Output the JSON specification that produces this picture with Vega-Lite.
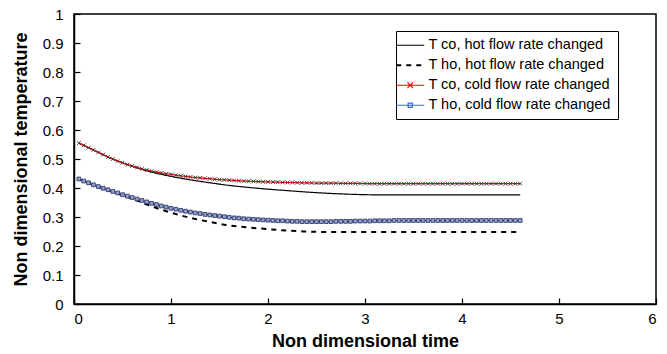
{
  "$schema": "https://vega.github.io/schema/vega-lite/v6.json",
  "width": 582,
  "height": 290,
  "autosize": {"type": "none"},
  "padding": {"left": 74, "top": 14, "right": 11, "bottom": 50},
  "background": "white",
  "config": {
    "font": "Liberation Sans",
    "view": {"stroke": "black", "strokeWidth": 1.5},
    "axis": {
      "grid": false,
      "domainColor": "black",
      "domainWidth": 1.5,
      "tickColor": "black",
      "tickWidth": 1.2,
      "tickSize": -6,
      "labelFont": "Liberation Sans",
      "labelFontSize": 15,
      "labelColor": "black",
      "titleFont": "Liberation Sans",
      "titleFontSize": 18,
      "titleFontWeight": "bold",
      "titleColor": "black"
    },
    "legend": {
      "title": null,
      "orient": "none",
      "legendX": 322,
      "legendY": 17,
      "strokeColor": "black",
      "fillColor": "white",
      "padding": 7,
      "labelFont": "Liberation Sans",
      "labelFontSize": 14.5,
      "labelColor": "black",
      "labelLimit": 400,
      "symbolSize": 784,
      "symbolStrokeWidth": 1.2,
      "labelOffset": 11,
      "rowPadding": 5
    }
  },
  "datasets": {
    "coHot": [
      {"time": 0.05, "temp": 0.555}, {"time": 0.2, "temp": 0.531}, {"time": 0.4, "temp": 0.5},
      {"time": 0.6, "temp": 0.475}, {"time": 0.8, "temp": 0.455}, {"time": 1.0, "temp": 0.44},
      {"time": 1.2, "temp": 0.428}, {"time": 1.4, "temp": 0.418}, {"time": 1.6, "temp": 0.409},
      {"time": 1.8, "temp": 0.402}, {"time": 2.0, "temp": 0.396}, {"time": 2.2, "temp": 0.391},
      {"time": 2.4, "temp": 0.386}, {"time": 2.6, "temp": 0.382}, {"time": 2.8, "temp": 0.379},
      {"time": 3.0, "temp": 0.377}, {"time": 3.2, "temp": 0.376}, {"time": 3.6, "temp": 0.376},
      {"time": 4.0, "temp": 0.376}, {"time": 4.4, "temp": 0.376}, {"time": 4.6, "temp": 0.376}
    ],
    "hoHot": [
      {"time": 0.05, "temp": 0.431}, {"time": 0.2, "temp": 0.411}, {"time": 0.4, "temp": 0.387},
      {"time": 0.6, "temp": 0.363}, {"time": 0.8, "temp": 0.337}, {"time": 1.0, "temp": 0.315},
      {"time": 1.2, "temp": 0.297}, {"time": 1.4, "temp": 0.283}, {"time": 1.6, "temp": 0.271},
      {"time": 1.8, "temp": 0.264}, {"time": 2.0, "temp": 0.258}, {"time": 2.2, "temp": 0.253},
      {"time": 2.4, "temp": 0.25}, {"time": 2.6, "temp": 0.248}, {"time": 2.8, "temp": 0.248},
      {"time": 3.2, "temp": 0.248}, {"time": 3.6, "temp": 0.248}, {"time": 4.0, "temp": 0.248},
      {"time": 4.4, "temp": 0.248}, {"time": 4.6, "temp": 0.248}
    ],
    "coCold": [
      {"time": 0.05, "temp": 0.555}, {"time": 0.1, "temp": 0.547}, {"time": 0.15, "temp": 0.539},
      {"time": 0.2, "temp": 0.531}, {"time": 0.25, "temp": 0.523}, {"time": 0.3, "temp": 0.515},
      {"time": 0.35, "temp": 0.507}, {"time": 0.4, "temp": 0.5}, {"time": 0.45, "temp": 0.493},
      {"time": 0.5, "temp": 0.487}, {"time": 0.55, "temp": 0.481}, {"time": 0.6, "temp": 0.476},
      {"time": 0.65, "temp": 0.471}, {"time": 0.7, "temp": 0.466}, {"time": 0.75, "temp": 0.462},
      {"time": 0.8, "temp": 0.458}, {"time": 0.85, "temp": 0.455}, {"time": 0.9, "temp": 0.452},
      {"time": 0.95, "temp": 0.449}, {"time": 1.0, "temp": 0.447}, {"time": 1.05, "temp": 0.444},
      {"time": 1.1, "temp": 0.442}, {"time": 1.15, "temp": 0.44}, {"time": 1.2, "temp": 0.438},
      {"time": 1.25, "temp": 0.436}, {"time": 1.3, "temp": 0.435}, {"time": 1.35, "temp": 0.433},
      {"time": 1.4, "temp": 0.432}, {"time": 1.45, "temp": 0.43}, {"time": 1.5, "temp": 0.429},
      {"time": 1.55, "temp": 0.428}, {"time": 1.6, "temp": 0.427}, {"time": 1.65, "temp": 0.426},
      {"time": 1.7, "temp": 0.425}, {"time": 1.75, "temp": 0.424}, {"time": 1.8, "temp": 0.4235},
      {"time": 1.85, "temp": 0.423}, {"time": 1.9, "temp": 0.422}, {"time": 1.95, "temp": 0.4215},
      {"time": 2.0, "temp": 0.421}, {"time": 2.05, "temp": 0.4205}, {"time": 2.1, "temp": 0.42},
      {"time": 2.15, "temp": 0.4195}, {"time": 2.2, "temp": 0.419}, {"time": 2.25, "temp": 0.419},
      {"time": 2.3, "temp": 0.4185}, {"time": 2.35, "temp": 0.418}, {"time": 2.4, "temp": 0.418},
      {"time": 2.45, "temp": 0.4175}, {"time": 2.5, "temp": 0.417}, {"time": 2.55, "temp": 0.417},
      {"time": 2.6, "temp": 0.417}, {"time": 2.65, "temp": 0.4165}, {"time": 2.7, "temp": 0.4165},
      {"time": 2.75, "temp": 0.416}, {"time": 2.8, "temp": 0.416}, {"time": 2.85, "temp": 0.416},
      {"time": 2.9, "temp": 0.416}, {"time": 2.95, "temp": 0.4155}, {"time": 3.0, "temp": 0.4155},
      {"time": 3.05, "temp": 0.415}, {"time": 3.1, "temp": 0.415}, {"time": 3.15, "temp": 0.415},
      {"time": 3.2, "temp": 0.415}, {"time": 3.25, "temp": 0.415}, {"time": 3.3, "temp": 0.415},
      {"time": 3.35, "temp": 0.415}, {"time": 3.4, "temp": 0.415}, {"time": 3.45, "temp": 0.415},
      {"time": 3.5, "temp": 0.415}, {"time": 3.55, "temp": 0.415}, {"time": 3.6, "temp": 0.415},
      {"time": 3.65, "temp": 0.415}, {"time": 3.7, "temp": 0.415}, {"time": 3.75, "temp": 0.415},
      {"time": 3.8, "temp": 0.415}, {"time": 3.85, "temp": 0.415}, {"time": 3.9, "temp": 0.415},
      {"time": 3.95, "temp": 0.415}, {"time": 4.0, "temp": 0.415}, {"time": 4.05, "temp": 0.415},
      {"time": 4.1, "temp": 0.415}, {"time": 4.15, "temp": 0.415}, {"time": 4.2, "temp": 0.415},
      {"time": 4.25, "temp": 0.415}, {"time": 4.3, "temp": 0.415}, {"time": 4.35, "temp": 0.415},
      {"time": 4.4, "temp": 0.415}, {"time": 4.45, "temp": 0.415}, {"time": 4.5, "temp": 0.415},
      {"time": 4.55, "temp": 0.415}, {"time": 4.6, "temp": 0.415}
    ],
    "hoCold": [
      {"time": 0.05, "temp": 0.431}, {"time": 0.1, "temp": 0.424}, {"time": 0.15, "temp": 0.418},
      {"time": 0.2, "temp": 0.411}, {"time": 0.25, "temp": 0.405}, {"time": 0.3, "temp": 0.399},
      {"time": 0.35, "temp": 0.394}, {"time": 0.4, "temp": 0.388}, {"time": 0.45, "temp": 0.383},
      {"time": 0.5, "temp": 0.377}, {"time": 0.55, "temp": 0.372}, {"time": 0.6, "temp": 0.367},
      {"time": 0.65, "temp": 0.362}, {"time": 0.7, "temp": 0.357}, {"time": 0.75, "temp": 0.352},
      {"time": 0.8, "temp": 0.347}, {"time": 0.85, "temp": 0.343}, {"time": 0.9, "temp": 0.338},
      {"time": 0.95, "temp": 0.334}, {"time": 1.0, "temp": 0.33}, {"time": 1.05, "temp": 0.327},
      {"time": 1.1, "temp": 0.323}, {"time": 1.15, "temp": 0.32}, {"time": 1.2, "temp": 0.317},
      {"time": 1.25, "temp": 0.314}, {"time": 1.3, "temp": 0.312}, {"time": 1.35, "temp": 0.309},
      {"time": 1.4, "temp": 0.307}, {"time": 1.45, "temp": 0.305}, {"time": 1.5, "temp": 0.303},
      {"time": 1.55, "temp": 0.301}, {"time": 1.6, "temp": 0.299}, {"time": 1.65, "temp": 0.297},
      {"time": 1.7, "temp": 0.296}, {"time": 1.75, "temp": 0.294}, {"time": 1.8, "temp": 0.293},
      {"time": 1.85, "temp": 0.292}, {"time": 1.9, "temp": 0.291}, {"time": 1.95, "temp": 0.29},
      {"time": 2.0, "temp": 0.289}, {"time": 2.05, "temp": 0.288}, {"time": 2.1, "temp": 0.287},
      {"time": 2.15, "temp": 0.287}, {"time": 2.2, "temp": 0.286}, {"time": 2.25, "temp": 0.285},
      {"time": 2.3, "temp": 0.285}, {"time": 2.35, "temp": 0.284}, {"time": 2.4, "temp": 0.284},
      {"time": 2.45, "temp": 0.284}, {"time": 2.5, "temp": 0.284}, {"time": 2.55, "temp": 0.284},
      {"time": 2.6, "temp": 0.284}, {"time": 2.65, "temp": 0.284}, {"time": 2.7, "temp": 0.285},
      {"time": 2.75, "temp": 0.285}, {"time": 2.8, "temp": 0.285}, {"time": 2.85, "temp": 0.285},
      {"time": 2.9, "temp": 0.286}, {"time": 2.95, "temp": 0.286}, {"time": 3.0, "temp": 0.286},
      {"time": 3.05, "temp": 0.286}, {"time": 3.1, "temp": 0.287}, {"time": 3.15, "temp": 0.287},
      {"time": 3.2, "temp": 0.287}, {"time": 3.25, "temp": 0.287}, {"time": 3.3, "temp": 0.288},
      {"time": 3.35, "temp": 0.288}, {"time": 3.4, "temp": 0.288}, {"time": 3.45, "temp": 0.288},
      {"time": 3.5, "temp": 0.288}, {"time": 3.55, "temp": 0.288}, {"time": 3.6, "temp": 0.288},
      {"time": 3.65, "temp": 0.288}, {"time": 3.7, "temp": 0.288}, {"time": 3.75, "temp": 0.288},
      {"time": 3.8, "temp": 0.288}, {"time": 3.85, "temp": 0.288}, {"time": 3.9, "temp": 0.288},
      {"time": 3.95, "temp": 0.288}, {"time": 4.0, "temp": 0.288}, {"time": 4.05, "temp": 0.288},
      {"time": 4.1, "temp": 0.288}, {"time": 4.15, "temp": 0.288}, {"time": 4.2, "temp": 0.288},
      {"time": 4.25, "temp": 0.288}, {"time": 4.3, "temp": 0.288}, {"time": 4.35, "temp": 0.288},
      {"time": 4.4, "temp": 0.288}, {"time": 4.45, "temp": 0.288}, {"time": 4.5, "temp": 0.288},
      {"time": 4.55, "temp": 0.288}, {"time": 4.6, "temp": 0.288}
    ]
  },
  "encoding": {
    "x": {
      "field": "time", "type": "quantitative",
      "scale": {"domain": [0, 6], "nice": false, "zero": false},
      "axis": {"title": "Non dimensional time", "values": [0, 1, 2, 3, 4, 5, 6], "format": "d", "labelOverlap": false, "labelPadding": 13, "titlePadding": 6}
    },
    "y": {
      "field": "temp", "type": "quantitative",
      "scale": {"domain": [0, 1], "nice": false},
      "axis": {"title": "Non dimensional temperature", "values": [0, 0.1, 0.2, 0.3, 0.4, 0.5, 0.6, 0.7, 0.8, 0.9, 1], "format": ".1~f", "labelOverlap": false, "labelSeparation": 0, "labelPadding": 17, "titlePadding": 12}
    }
  },
  "layer": [
    {
      "data": {"name": "coHot"},
      "mark": {"type": "line", "strokeWidth": 1.2, "interpolate": "monotone"},
      "encoding": {
        "color": {
          "datum": "T co, hot flow rate changed", "type": "nominal",
          "scale": {
            "domain": ["T co, hot flow rate changed", "T ho, hot flow rate changed", "T co, cold flow rate changed", "T ho, cold flow rate changed"],
            "range": ["#000000", "#000000", "#ff0000", "#3366ff"]
          },
          "legend": {
            "encode": {
              "symbols": {
                "update": {
                  "shape": {"signal": "datum.value === 'T co, cold flow rate changed' ? 'M-1,0L1,0M-0.2,-0.2L0.2,0.2M-0.2,0.2L0.2,-0.2' : datum.value === 'T ho, cold flow rate changed' ? 'M-1,0L1,0M-0.15,-0.15H0.15V0.15H-0.15Z' : 'M-1,0L1,0'"},
                  "strokeWidth": {"signal": "datum.value === 'T ho, hot flow rate changed' ? 2 : 1.2"}
                }
              }
            }
          }
        },
        "strokeDash": {
          "datum": "T co, hot flow rate changed", "type": "nominal",
          "scale": {
            "domain": ["T co, hot flow rate changed", "T ho, hot flow rate changed", "T co, cold flow rate changed", "T ho, cold flow rate changed"],
            "range": [[1, 0], [5, 5], [1, 0], [1, 0]]
          },
          "legend": {
            "encode": {
              "symbols": {
                "update": {
                  "shape": {"signal": "datum.value === 'T co, cold flow rate changed' ? 'M-1,0L1,0M-0.2,-0.2L0.2,0.2M-0.2,0.2L0.2,-0.2' : datum.value === 'T ho, cold flow rate changed' ? 'M-1,0L1,0M-0.15,-0.15H0.15V0.15H-0.15Z' : 'M-1,0L1,0'"},
                  "strokeWidth": {"signal": "datum.value === 'T ho, hot flow rate changed' ? 2 : 1.2"}
                }
              }
            }
          }
        }
      }
    },
    {
      "data": {"name": "hoHot"},
      "mark": {"type": "line", "strokeWidth": 2, "interpolate": "monotone"},
      "encoding": {
        "color": {"datum": "T ho, hot flow rate changed", "type": "nominal"},
        "strokeDash": {"datum": "T ho, hot flow rate changed", "type": "nominal"}
      }
    },
    {
      "data": {"name": "coCold"},
      "mark": {"type": "line", "strokeWidth": 1.2},
      "encoding": {
        "color": {"datum": "T co, cold flow rate changed", "type": "nominal"},
        "strokeDash": {"datum": "T co, cold flow rate changed", "type": "nominal"}
      }
    },
    {
      "data": {"name": "hoCold"},
      "mark": {"type": "line", "strokeWidth": 1.2},
      "encoding": {
        "color": {"datum": "T ho, cold flow rate changed", "type": "nominal"},
        "strokeDash": {"datum": "T ho, cold flow rate changed", "type": "nominal"}
      }
    },
    {
      "data": {"name": "coCold"},
      "mark": {"type": "point", "shape": "M-1,-1L1,1M-1,1L1,-1", "size": 14, "filled": false, "stroke": "#333333", "strokeWidth": 0.9, "opacity": 1},
      "encoding": {}
    },
    {
      "data": {"name": "hoCold"},
      "mark": {"type": "point", "shape": "square", "size": 14, "filled": true, "fill": "#9aa3bf", "stroke": "#1c2a66", "strokeWidth": 0.8, "opacity": 1},
      "encoding": {}
    }
  ]
}
